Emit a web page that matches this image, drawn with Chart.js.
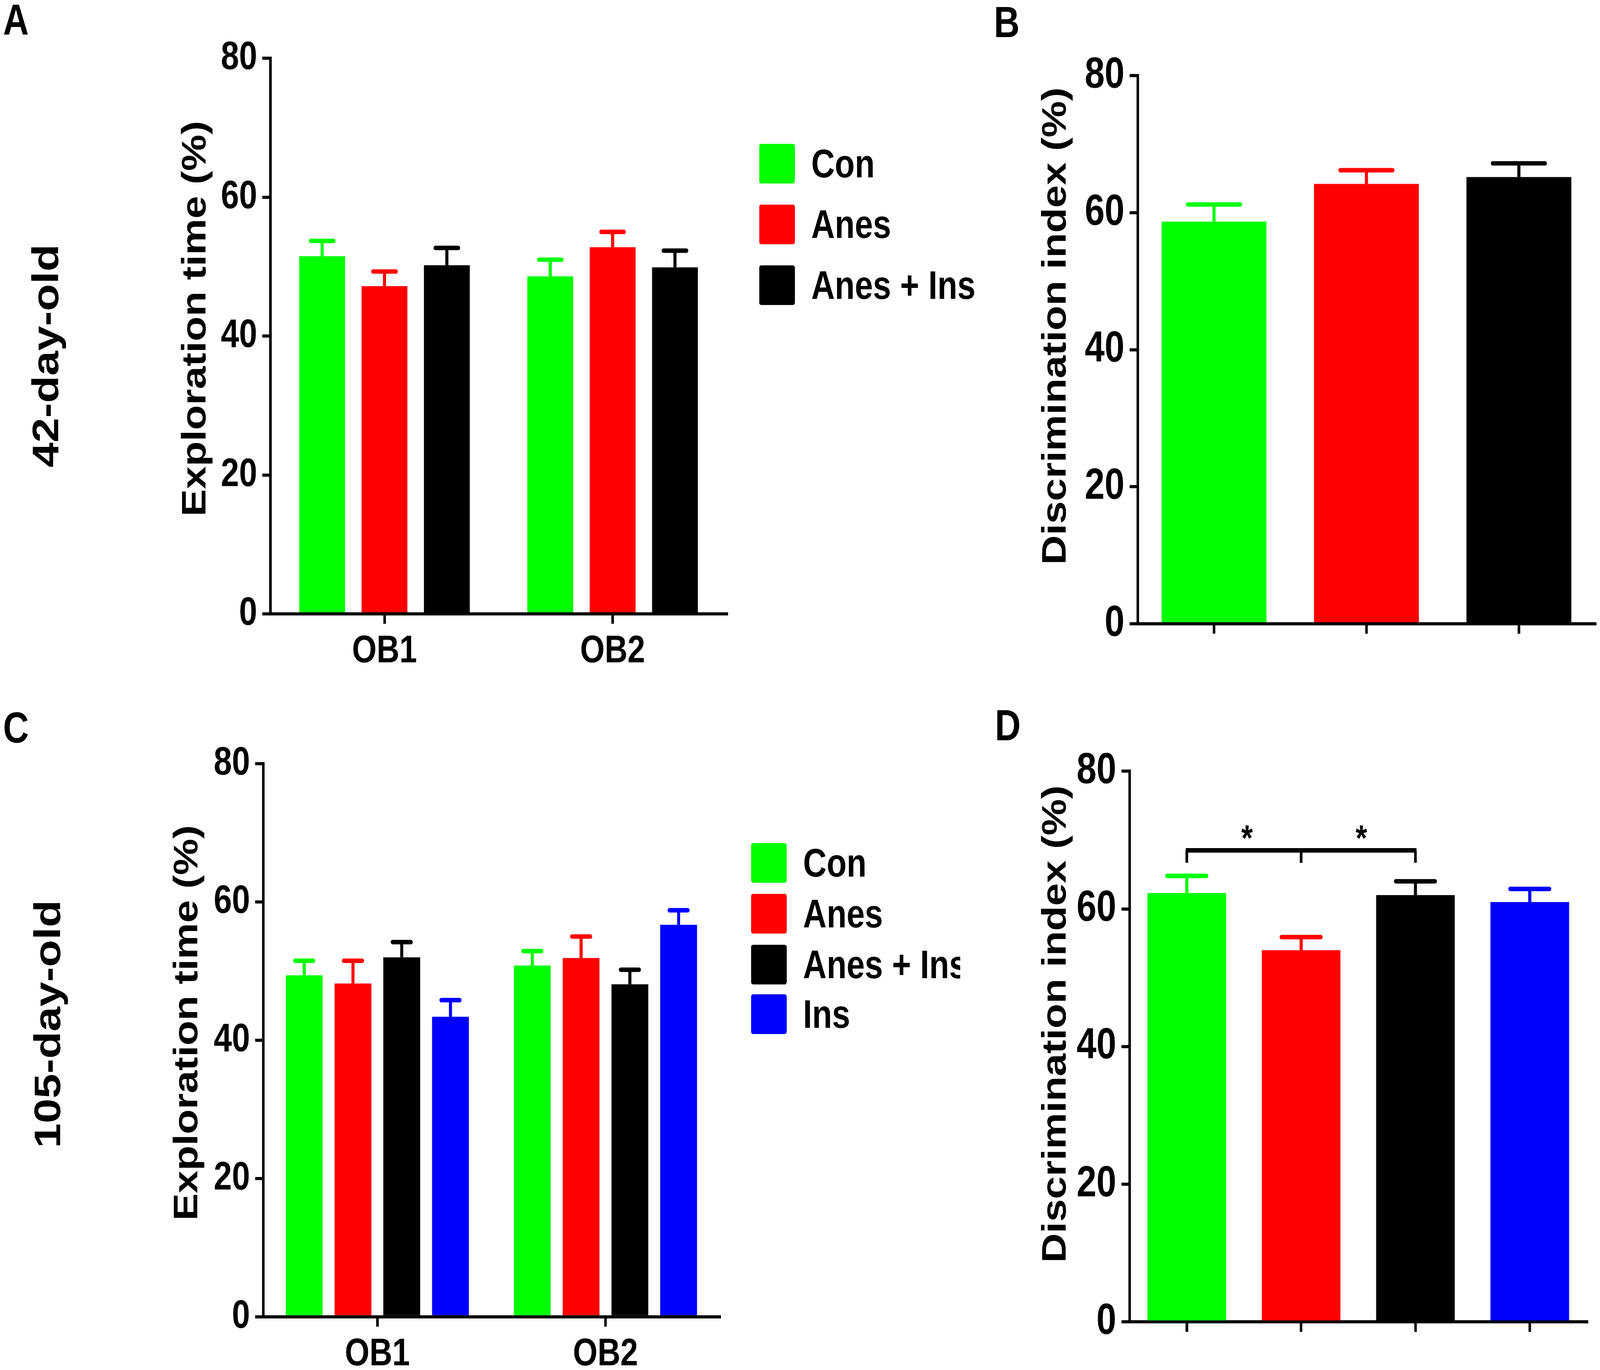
<!DOCTYPE html>
<html>
<head>
<meta charset="utf-8">
<script src="https://cdn.jsdelivr.net/npm/chart.js@4.4.1/dist/chart.umd.min.js"></script>
<style>
  html, body { margin: 0; padding: 0; background: #fff; width: 100%; height: 100%; overflow: hidden; }
  #fig {
    position: absolute; left: 0; top: 0; width: 1568px; height: 1105px;
    transform-origin: 0 0;
    font-family: "Liberation Sans", Arial, sans-serif; font-weight: bold; color: #000;
  }
  .box { position: absolute; }
  .lbl { position: absolute; line-height: 1; white-space: nowrap; }
  .rot { position: absolute; line-height: 1; white-space: nowrap; transform: translate(-50%, -50%) rotate(-90deg); }
  .legend { position: absolute; overflow: hidden; font-size: 32px; line-height: 1; }
  .legend .row { display: flex; align-items: center; white-space: nowrap; }
  .legend .sw { width: 35px; height: 32px; border-radius: 2px; margin-right: 16px; flex: none; }
</style>
</head>
<body>
<div id="fig">
  <div class="lbl" style="left:3px;top:-2px;font-size:35px">A</div>
  <div class="lbl" style="left:974px;top:0px;font-size:35px">B</div>
  <div class="lbl" style="left:3px;top:569px;font-size:35px">C</div>
  <div class="lbl" style="left:975px;top:567px;font-size:35px">D</div>

  <div class="rot" style="left:45px;top:287px;font-size:36px">42-day-old</div>
  <div class="rot" style="left:47px;top:826px;font-size:36px">105-day-old</div>

  <div class="rot" style="left:190px;top:257px;font-size:33px">Exploration time (%)</div>
  <div class="rot" style="left:1033px;top:263px;font-size:33px">Discrimination index (%)</div>
  <div class="rot" style="left:182px;top:825px;font-size:33px">Exploration time (%)</div>
  <div class="rot" style="left:1033px;top:826px;font-size:33px">Discrimination index (%)</div>

  <div class="box" style="left:185px;top:17px;width:532px;height:538px"><canvas id="chartA"></canvas></div>
  <div class="box" style="left:1035px;top:31px;width:533px;height:532px"><canvas id="chartB"></canvas></div>
  <div class="box" style="left:178px;top:586px;width:532px;height:536px"><canvas id="chartC"></canvas></div>
  <div class="box" style="left:1027px;top:592px;width:533px;height:534px"><canvas id="chartD"></canvas></div>

  <div class="legend" id="legendA" style="left:744px;top:107px;width:260px"></div>
  <div class="legend" id="legendC" style="left:736px;top:676px;width:205px"></div>
</div>

<script>
// ---- data ----
const obLabels = ["OB1", "OB2"];
const groups42 = ["Con", "Anes", "Anes + Ins"];
const groups105 = ["Con", "Anes", "Anes + Ins", "Ins"];
const groupColors = ["#00ff00", "#ff0000", "#000000", "#0000ff"];
const yTicks = [0, 20, 40, 60, 80];

// A: 42-day-old, exploration time (%), [OB1, OB2]
const aCon = [51.5, 48.6];
const aConSem = [2.2, 2.4];
const aAnes = [47.2, 52.8];
const aAnesSem = [2.1, 2.2];
const aAnesIns = [50.2, 49.9];
const aAnesInsSem = [2.5, 2.4];

// B: 42-day-old, discrimination index (%), one value per group
const bMean = [58.7, 64.2, 65.2];
const bSem = [2.5, 2.0, 2.0];

// C: 105-day-old, exploration time (%), [OB1, OB2]
const cCon = [49.4, 50.8];
const cConSem = [2.1, 2.1];
const cAnes = [48.2, 51.9];
const cAnesSem = [3.3, 3.1];
const cAnesIns = [52.0, 48.1];
const cAnesInsSem = [2.2, 2.1];
const cIns = [43.4, 56.7];
const cInsSem = [2.4, 2.1];

// D: 105-day-old, discrimination index (%)
const dMean = [62.3, 54.0, 62.0, 61.0];
const dSem = [2.5, 1.9, 2.0, 1.9];

// significance bracket in D (group indexes) and its height in axis units
const dSigPairs = [[0, 1], [1, 2]];
const dSigMarks = ["*", "*"];
const dSigLevel = 68.5;
const dSigTickEnd = 66.7;
const dSigMarkAt = 71.0;

// ---- drawing ----
const FONT = "'Liberation Sans', Arial, sans-serif";

// the figure is laid out on a 1568 x 1105 grid and stretched to fill the window
const fig = document.getElementById("fig");
const sx = window.innerWidth / 1568;
const sy = window.innerHeight / 1105;
fig.style.transform = "scale(" + sx + "," + sy + ")";
const pixelRatio = Math.max(sx, sy) * (window.devicePixelRatio || 1);

// SEM bars, drawn upward only, in the bar's colour
const errorBars = {
  id: "errorBars",
  afterDatasetsDraw(chart) {
    const ctx = chart.ctx;
    const y = chart.scales.y;
    chart.data.datasets.forEach((ds, i) => {
      const meta = chart.getDatasetMeta(i);
      meta.data.forEach((bar, j) => {
        const color = Array.isArray(ds.backgroundColor) ? ds.backgroundColor[j] : ds.backgroundColor;
        const top = y.getPixelForValue(ds.data[j] + ds.sem[j]);
        const half = bar.width * 0.25;
        ctx.save();
        ctx.strokeStyle = color;
        ctx.lineWidth = 3;
        ctx.beginPath();
        ctx.moveTo(bar.x, bar.y);
        ctx.lineTo(bar.x, top);
        ctx.stroke();
        ctx.lineWidth = 3.6;
        ctx.lineCap = "round";
        ctx.beginPath();
        ctx.moveTo(bar.x - half, top);
        ctx.lineTo(bar.x + half, top);
        ctx.stroke();
        ctx.restore();
      });
    });
  }
};

const bracket = {
  id: "bracket",
  afterDatasetsDraw(chart, args, opts) {
    if (!opts || !opts.pairs) return;
    const { ctx, scales: { x, y } } = chart;
    const yl = y.getPixelForValue(opts.level);
    const yt = y.getPixelForValue(opts.tickEnd);
    const ym = y.getPixelForValue(opts.markAt);
    const size = 29;
    ctx.save();
    ctx.strokeStyle = "#000";
    ctx.fillStyle = "#000";
    opts.pairs.forEach((p, k) => {
      const xa = x.getPixelForValue(p[0]);
      const xb = x.getPixelForValue(p[1]);
      ctx.lineWidth = 3.6;
      ctx.beginPath();
      ctx.moveTo(xa - 1, yl);
      ctx.lineTo(xb + 1, yl);
      ctx.stroke();
      ctx.lineWidth = 2.6;
      ctx.beginPath();
      ctx.moveTo(xa, yl);
      ctx.lineTo(xa, yt);
      ctx.moveTo(xb, yl);
      ctx.lineTo(xb, yt);
      ctx.stroke();
      ctx.font = "bold " + size + "px " + FONT;
      ctx.textAlign = "center";
      ctx.textBaseline = "middle";
      ctx.fillText(opts.marks[k], (xa + xb) / 2 + 3, ym + size * 0.2);
    });
    ctx.restore();
  }
};

function makeChart(id, labels, datasets, o) {
  const axisGrid = {
    offset: false,
    drawOnChartArea: false,
    drawTicks: true,
    tickLength: 8,
    color: "#000",
    lineWidth: 2.5
  };
  return new Chart(document.getElementById(id), {
    type: "bar",
    data: { labels, datasets },
    options: {
      responsive: true,
      maintainAspectRatio: false,
      animation: false,
      devicePixelRatio: pixelRatio,
      events: [],
      layout: { padding: { top: 30, right: 5, left: 0, bottom: 0 } },
      datasets: {
        bar: { categoryPercentage: o.cat, barPercentage: o.bar, borderWidth: 0 }
      },
      plugins: {
        legend: { display: false },
        tooltip: { enabled: false },
        bracket: o.bracket || false
      },
      scales: {
        x: {
          afterFit: (s) => { s.height = 60; },
          grid: axisGrid,
          border: { color: "#000", width: 2.5 },
          ticks: {
            display: o.xLabels,
            color: "#000",
            padding: 4,
            font: { family: FONT, weight: "bold", size: 31 }
          }
        },
        y: {
          min: 0,
          max: 80,
          afterFit: (s) => { s.width = 80; },
          afterBuildTicks: (s) => { s.ticks = yTicks.map((v) => ({ value: v })); },
          grid: axisGrid,
          border: { color: "#000", width: 2.5 },
          ticks: {
            color: "#000",
            padding: 5,
            font: { family: FONT, weight: "bold", size: o.tickSize }
          }
        }
      }
    },
    plugins: [errorBars, bracket]
  });
}

function buildLegend(id, names, rowHeight) {
  const box = document.getElementById(id);
  names.forEach((name, i) => {
    const row = document.createElement("div");
    row.className = "row";
    row.style.height = rowHeight + "px";
    const sw = document.createElement("div");
    sw.className = "sw";
    sw.style.background = groupColors[i];
    const tx = document.createElement("span");
    tx.textContent = name;
    row.appendChild(sw);
    row.appendChild(tx);
    box.appendChild(row);
  });
}

function init() {
  makeChart("chartA", obLabels, [
    { label: groups42[0], data: aCon, sem: aConSem, backgroundColor: groupColors[0] },
    { label: groups42[1], data: aAnes, sem: aAnesSem, backgroundColor: groupColors[1] },
    { label: groups42[2], data: aAnesIns, sem: aAnesInsSem, backgroundColor: groupColors[2] }
  ], { cat: 0.82, bar: 0.735, tickSize: 32, xLabels: true });

  makeChart("chartB", groups42, [
    { label: "Discrimination index", data: bMean, sem: bSem, backgroundColor: groupColors.slice(0, 3) }
  ], { cat: 1, bar: 0.688, tickSize: 35, xLabels: false });

  makeChart("chartC", obLabels, [
    { label: groups105[0], data: cCon, sem: cConSem, backgroundColor: groupColors[0] },
    { label: groups105[1], data: cAnes, sem: cAnesSem, backgroundColor: groupColors[1] },
    { label: groups105[2], data: cAnesIns, sem: cAnesInsSem, backgroundColor: groupColors[2] },
    { label: groups105[3], data: cIns, sem: cInsSem, backgroundColor: groupColors[3] }
  ], { cat: 0.855, bar: 0.755, tickSize: 32, xLabels: true });

  makeChart("chartD", groups105, [
    { label: "Discrimination index", data: dMean, sem: dSem, backgroundColor: groupColors.slice(0, 4) }
  ], {
    cat: 1, bar: 0.688, tickSize: 35, xLabels: false,
    bracket: { pairs: dSigPairs, marks: dSigMarks, level: dSigLevel, tickEnd: dSigTickEnd, markAt: dSigMarkAt }
  });

  buildLegend("legendA", groups42, 49.2);
  buildLegend("legendC", groups105, 40.7);
}

if (document.readyState === "loading") {
  document.addEventListener("DOMContentLoaded", init);
} else {
  init();
}
</script>
</body>
</html>
